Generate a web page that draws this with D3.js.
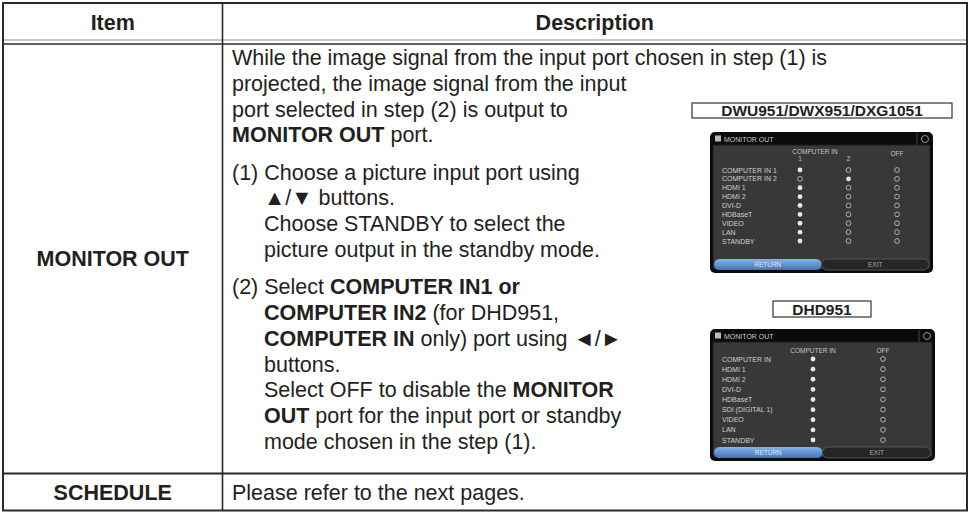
<!DOCTYPE html>
<html><head><meta charset="utf-8">
<script src="https://cdn.jsdelivr.net/npm/d3@7"></script>
<style>
html,body{margin:0;padding:0;background:#fff;}
svg{display:block;}
text{font-family:"Liberation Sans",Arial,Helvetica,sans-serif;white-space:pre;}
</style></head>
<body>
<svg id="chart" width="969" height="512"></svg>
<script>
// ---------------- DATA ----------------
const headers = ["Item", "Description"];
const items = ["MONITOR OUT", "SCHEDULE"];
// each line: paragraph index, indented?, segments [text, bold]
const monitorLines = [
  [0, false, [["While the image signal from the input port chosen in step (1) is", false]]],
  [0, false, [["projected, the image signal from the input", false]]],
  [0, false, [["port selected in step (2) is output to", false]]],
  [0, false, [["MONITOR OUT", true], [" port.", false]]],
  [1, false, [["(1) Choose a picture input port using", false]]],
  [1, true,  [["\u25B2/\u25BC buttons.", false]]],
  [1, true,  [["Choose STANDBY to select the", false]]],
  [1, true,  [["picture output in the standby mode.", false]]],
  [2, false, [["(2) Select ", false], ["COMPUTER IN1 or", true]]],
  [2, true,  [["COMPUTER IN2", true], [" (for DHD951,", false]]],
  [2, true,  [["COMPUTER IN", true], [" only) port using \u25C4/\u25BA", false]]],
  [2, true,  [["buttons.", false]]],
  [2, true,  [["Select OFF to disable the ", false], ["MONITOR", true]]],
  [2, true,  [["OUT", true], [" port for the input port or standby", false]]],
  [2, true,  [["mode chosen in the step (1).", false]]]
];
const scheduleText = "Please refer to the next pages.";

const screenTitle = "MONITOR OUT";
const screenButtons = ["RETURN", "EXIT"];

const model1Label = "DWU951/DWX951/DXG1051";
const model1Group = "COMPUTER IN";
const model1Columns = ["1", "2", "OFF"];
const model1Rows = ["COMPUTER IN 1", "COMPUTER IN 2", "HDMI 1", "HDMI 2", "DVI-D", "HDBaseT", "VIDEO", "LAN", "STANDBY"];
const model1Selected = [0, 1, 0, 0, 0, 0, 0, 0, 0];

const model2Label = "DHD951";
const model2Group = "";
const model2Columns = ["COMPUTER IN", "OFF"];
const model2Rows = ["COMPUTER IN", "HDMI 1", "HDMI 2", "DVI-D", "HDBaseT", "SDI (DIGITAL 1)", "VIDEO", "LAN", "STANDBY"];
const model2Selected = [0, 0, 0, 0, 0, 0, 0, 0, 0];

// ---------------- LAYOUT ----------------
const svg = d3.select("#chart");
const ink = "#231f20";
const FS = 21.5;

const tbl = {l: 3, r: 967, t: 3, b: 510.5, col: 222.5, h1: 40, h2: 44, row: 473.5};
const xCol = d3.scaleOrdinal().domain(headers).range([(tbl.l + tbl.col) / 2, (tbl.col + tbl.r) / 2]);

const g = svg.append("g");
g.append("line").attr("x1", tbl.l).attr("x2", tbl.r).attr("y1", tbl.h1).attr("y2", tbl.h1)
  .attr("stroke", "#8a8a8a").attr("stroke-width", 1.2);
g.append("line").attr("x1", tbl.l).attr("x2", tbl.r).attr("y1", tbl.h2).attr("y2", tbl.h2)
  .attr("stroke", "#2a2a2a").attr("stroke-width", 1.6);
g.append("line").attr("x1", tbl.l).attr("x2", tbl.r).attr("y1", tbl.row).attr("y2", tbl.row)
  .attr("stroke", "#2a2a2a").attr("stroke-width", 2);
g.append("line").attr("x1", tbl.col).attr("x2", tbl.col).attr("y1", tbl.t).attr("y2", tbl.b)
  .attr("stroke", "#2a2a2a").attr("stroke-width", 1.6);
g.append("rect").attr("x", tbl.l).attr("y", tbl.t).attr("width", tbl.r - tbl.l).attr("height", tbl.b - tbl.t)
  .attr("fill", "none").attr("stroke", "#2a2a2a").attr("stroke-width", 2);

g.selectAll("text.hdr").data(headers).join("text").attr("class", "hdr")
  .attr("x", d => xCol(d)).attr("y", 30).attr("text-anchor", "middle")
  .attr("font-size", FS).attr("font-weight", "bold").attr("fill", ink).text(d => d);

const itemY = d3.scaleOrdinal().domain(items).range([(tbl.h2 + tbl.row) / 2 + 7.5, (tbl.row + tbl.b) / 2 + 7.5]);
g.selectAll("text.item").data(items).join("text").attr("class", "item")
  .attr("x", xCol(headers[0])).attr("y", d => itemY(d)).attr("text-anchor", "middle")
  .attr("font-size", FS).attr("font-weight", "bold").attr("fill", ink).text(d => d);

const lineH = 25.8, paraGap = 11.4, y0 = 65, tx = 232, indent = 32;
const lineY = (d, i) => y0 + i * lineH + d[0] * paraGap;
const tl = g.selectAll("text.desc").data(monitorLines).join("text").attr("class", "desc")
  .attr("x", d => tx + (d[1] ? indent : 0)).attr("y", lineY)
  .attr("font-size", FS).attr("fill", ink);
tl.selectAll("tspan").data(d => d[2]).join("tspan")
  .attr("font-weight", d => d[1] ? "bold" : "normal").text(d => d[0]);

g.append("text").attr("x", tx).attr("y", itemY(items[1]))
  .attr("font-size", FS).attr("fill", ink).text(scheduleText);

// ---------------- SCREENSHOTS ----------------
function modelLabel(text, x, y, w, h) {
  g.append("rect").attr("x", x).attr("y", y).attr("width", w).attr("height", h)
    .attr("fill", "#fff").attr("stroke", "#333").attr("stroke-width", 1.2);
  g.append("text").attr("x", x + w / 2).attr("y", y + h - 2.4).attr("text-anchor", "middle")
    .attr("font-size", 15.5).attr("font-weight", "bold").attr("fill", ink).text(text);
}

function screen(box, group, columns, rows, selected, colRange, rowRange, groupX) {
  const s = g.append("g");
  s.append("rect").attr("x", box.x).attr("y", box.y).attr("width", box.w).attr("height", box.h)
    .attr("rx", 5).attr("fill", "#0b0b0b");
  s.append("rect").attr("x", box.x + 3).attr("y", box.y + 13).attr("width", box.w - 6).attr("height", box.h - 17)
    .attr("fill", "#383838").attr("stroke", "#1a1a1a");
  s.append("rect").attr("x", box.x + 5).attr("y", box.y + 3.5).attr("width", 6).attr("height", 6).attr("fill", "#bbb");
  s.append("text").attr("x", box.x + 14).attr("y", box.y + 9.5).attr("font-size", 7).attr("fill", "#c8c8c8").text(screenTitle);
  s.append("line").attr("x1", box.x + box.w - 16).attr("x2", box.x + box.w - 16).attr("y1", box.y + 1).attr("y2", box.y + 13).attr("stroke", "#444");
  s.append("circle").attr("cx", box.x + box.w - 8).attr("cy", box.y + 7).attr("r", 3.5).attr("fill", "none").attr("stroke", "#999");

  const xs = d3.scalePoint().domain(columns).range(colRange);
  const ys = d3.scalePoint().domain(rows).range(rowRange);
  if (group) s.append("text").attr("x", groupX).attr("y", box.y + 22).attr("text-anchor", "middle")
    .attr("font-size", 6.5).attr("fill", "#c4c4c4").text(group);
  s.selectAll("text.col").data(columns).join("text").attr("class", "col")
    .attr("x", d => xs(d)).attr("y", d => box.y + (group && d !== "OFF" ? 29 : 24))
    .attr("text-anchor", "middle").attr("font-size", 6.5).attr("fill", "#c4c4c4").text(d => d);
  s.selectAll("text.row").data(rows).join("text").attr("class", "row")
    .attr("x", box.x + 12).attr("y", d => ys(d) + 2.5).attr("font-size", 7).attr("fill", "#cfcfcf").text(d => d);
  const cells = [];
  rows.forEach((r, ri) => columns.forEach((c, ci) => cells.push({r, c, on: selected[ri] === ci})));
  s.selectAll("circle.dot").data(cells).join("circle").attr("class", "dot")
    .attr("cx", d => xs(d.c)).attr("cy", d => ys(d.r)).attr("r", 2.4)
    .attr("fill", d => d.on ? "#e6e6e6" : "none").attr("stroke", d => d.on ? "none" : "#b0b0b0").attr("stroke-width", 1);
  const by = box.y + box.h - 14, bw = (box.w - 8) / 2;
  const grad = svg.append("defs").append("linearGradient").attr("id", "blu" + box.y).attr("x1", 0).attr("x2", 0).attr("y1", 0).attr("y2", 1);
  grad.append("stop").attr("offset", 0).attr("stop-color", "#86b4e8");
  grad.append("stop").attr("offset", 1).attr("stop-color", "#3f74bd");
  s.append("rect").attr("x", box.x + 4).attr("y", by).attr("width", bw).attr("height", 11).attr("rx", 5.5)
    .attr("fill", "url(#blu" + box.y + ")");
  s.append("rect").attr("x", box.x + 4 + bw).attr("y", by).attr("width", bw).attr("height", 11).attr("rx", 5.5)
    .attr("fill", "#262626").attr("stroke", "#555");
  s.selectAll("text.btn").data(screenButtons).join("text").attr("class", "btn")
    .attr("x", (d, i) => box.x + 4 + bw * i + bw / 2).attr("y", by + 8).attr("text-anchor", "middle")
    .attr("font-size", 6.5).attr("fill", (d, i) => i ? "#aaa" : "#dce9f8").text(d => d);
}

modelLabel(model1Label, 692, 103, 260, 15);
screen({x: 710, y: 132, w: 223, h: 141}, model1Group, model1Columns, model1Rows, model1Selected,
  [800, 897], [170, 241], 815);
modelLabel(model2Label, 773, 301, 98, 16);
screen({x: 710, y: 329, w: 225, h: 132}, model2Group, model2Columns, model2Rows, model2Selected,
  [813, 883], [359, 440], 813);
</script>
</body></html>
